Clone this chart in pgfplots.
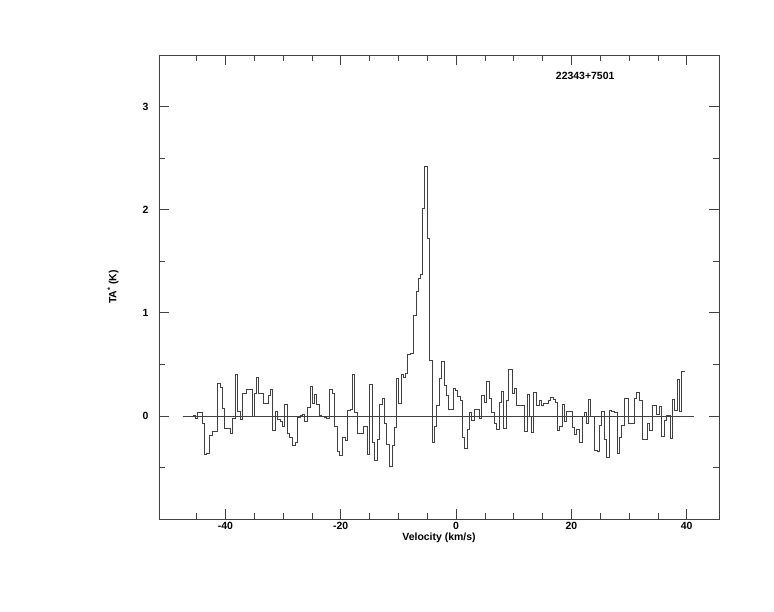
\documentclass[border=0pt]{standalone}
\usepackage{fontspec}
\setmainfont{Liberation Sans}
\usepackage{pgfplots}
\pgfplotsset{compat=1.18}
\begin{document}
\begin{tikzpicture}[x=1bp,y=1bp]
\path[use as bounding box] (0,0) rectangle (774,612);
\begin{axis}[
  at={(159bp,93bp)}, anchor=south west,
  scale only axis, width=560bp, height=464bp,
  xmin=-51.5, xmax=45.6, ymin=-1, ymax=3.5,
  axis line style={black!75, line width=0.6bp},
  every tick/.style={black!75, line width=0.6bp},
  tick align=inside,
  xtick pos=both, ytick pos=both,
  xticklabel pos=lower, yticklabel pos=left,
  major tick length=10bp, minor tick length=6bp,
  xtick={-40,-20,0,20,40},
  minor xtick={-45,-35,-30,-25,-15,-10,-5,5,10,15,25,30,35},
  ytick={0,1,2,3}, minor ytick={-0.5,0.5,1.5,2.5},
  xticklabels={-40,-20,0,20,40}, yticklabels={0,1,2,3},
  ticklabel style={font=\fontsize{10.5}{12}\selectfont\bfseries},
  yticklabel style={xshift=-7bp},
  xlabel={Velocity (km/s)},
  xlabel style={font=\fontsize{10.5}{12}\selectfont\bfseries, at={(axis description cs:0.5,-0.0395)}, anchor=center},
  ylabel={TA\textsuperscript{*} (K)},
  ylabel style={font=\fontsize{10.5}{12}\selectfont\bfseries, at={(axis description cs:-0.082,0.5)}, anchor=center},
  clip=false,
]
\addplot[black!75, line width=0.6bp] coordinates {(-47.4,0) (41.3,0)};
\addplot[const plot, black!75, line width=0.6bp] coordinates {
(-45.56,0.01) (-45.27,-0.02) (-44.87,0.03) (-44.00,-0.07) (-43.65,-0.37)
(-43.24,-0.36) (-42.79,-0.19) (-42.26,-0.15) (-41.40,0.32) (-40.93,0.28)
(-40.53,0.07) (-40.15,-0.12) (-39.20,-0.17) (-38.80,-0.02) (-38.33,0.40)
(-37.93,0.04) (-37.46,-0.03) (-37.06,0.22) (-36.30,0.26) (-35.38,0.00)
(-35.03,0.22) (-34.60,0.37) (-34.25,0.22) (-33.47,0.12) (-32.60,0.20)
(-32.26,0.26) (-31.79,-0.14) (-31.39,0.04) (-30.99,-0.03) (-30.52,-0.05)
(-30.12,-0.10) (-29.78,0.11) (-29.26,-0.17) (-28.91,-0.21) (-28.39,-0.29)
(-27.92,-0.26) (-27.52,-0.01) (-27.06,0.01) (-26.66,0.02) (-26.24,-0.05)
(-25.79,0.08) (-25.32,0.29) (-24.85,0.12) (-24.58,0.21) (-24.16,0.11)
(-23.71,0.01) (-23.29,0.00) (-22.89,-0.01) (-22.42,-0.02) (-21.97,0.26)
(-21.38,0.22) (-21.11,-0.10) (-20.64,-0.34) (-20.17,-0.38) (-19.72,-0.21)
(-19.25,-0.24) (-18.78,0.05) (-18.38,0.06) (-17.98,0.40) (-17.64,0.03)
(-17.12,-0.17) (-16.65,-0.17) (-16.08,-0.10) (-15.38,-0.37) (-15.04,0.31)
(-14.52,-0.26) (-14.17,-0.43) (-13.65,-0.23) (-13.30,0.11) (-12.83,0.17)
(-12.43,-0.07) (-12.09,-0.28) (-11.57,-0.49) (-11.05,-0.29) (-10.70,-0.11)
(-10.28,0.36) (-9.94,0.12) (-9.49,0.40) (-9.14,0.37) (-8.79,0.41)
(-8.45,0.60) (-7.98,0.61) (-7.41,0.98) (-6.94,1.21) (-6.59,1.33)
(-6.24,1.37) (-5.84,2.01) (-5.50,2.42) (-4.91,1.72) (-4.56,0.54)
(-4.08,-0.26) (-3.73,-0.10) (-3.35,0.10) (-2.95,0.36) (-2.55,0.53)
(-2.08,0.30) (-1.68,0.20) (-1.30,0.06) (-0.92,0.06) (-0.52,0.27)
(-0.12,0.25) (0.29,0.19) (0.69,0.15) (1.09,-0.21) (1.44,-0.31)
(1.96,-0.13) (2.31,0.03) (2.72,-0.04) (3.12,0.06) (3.59,0.06)
(4.04,-0.02) (4.46,0.20) (4.91,0.13) (5.32,0.34) (5.78,0.17)
(6.19,0.03) (6.59,-0.07) (7.02,-0.13) (7.42,0.13) (7.86,0.24)
(8.27,-0.12) (8.67,0.15) (9.02,0.45) (9.42,0.45) (9.76,0.22)
(10.11,0.27) (10.53,0.10) (10.93,0.10) (11.36,0.10) (11.79,-0.15)
(12.31,0.21) (12.75,0.00) (13.13,-0.16) (13.48,0.23) (14.00,0.10)
(14.45,0.15) (14.79,0.10) (15.17,0.12) (15.56,0.12) (15.96,0.15)
(16.42,0.18) (16.87,0.16) (17.26,0.13) (17.57,-0.14) (17.95,-0.10)
(18.38,0.11) (18.77,-0.05) (19.20,0.04) (19.65,0.04) (20.12,-0.11)
(20.52,-0.18) (20.93,-0.13) (21.33,-0.26) (21.90,0.00) (22.25,0.03)
(22.67,-0.07) (22.94,0.16) (23.36,0.00) (23.99,-0.33) (24.51,-0.34)
(24.85,-0.09) (25.27,0.04) (25.67,-0.23) (26.14,-0.40) (26.59,0.05)
(27.00,0.04) (27.40,0.03) (27.97,-0.36) (28.32,-0.21) (28.74,-0.09)
(29.14,0.17) (29.88,-0.07) (30.87,0.17) (31.34,0.23) (31.74,0.15)
(32.31,-0.23) (33.18,-0.07) (33.52,-0.14) (34.04,0.10) (34.81,0.02)
(35.26,0.09) (35.67,-0.20) (36.07,-0.04) (36.42,0.01) (37.11,-0.22)
(37.51,0.16) (37.86,0.05) (38.38,0.35) (38.73,0.04) (39.14,0.43)
(39.71,0.43)
};
\node[font=\fontsize{10.5}{12}\selectfont\bfseries] at (axis cs:22.4,3.30) {22343+7501};
\end{axis}
\end{tikzpicture}
\end{document}
